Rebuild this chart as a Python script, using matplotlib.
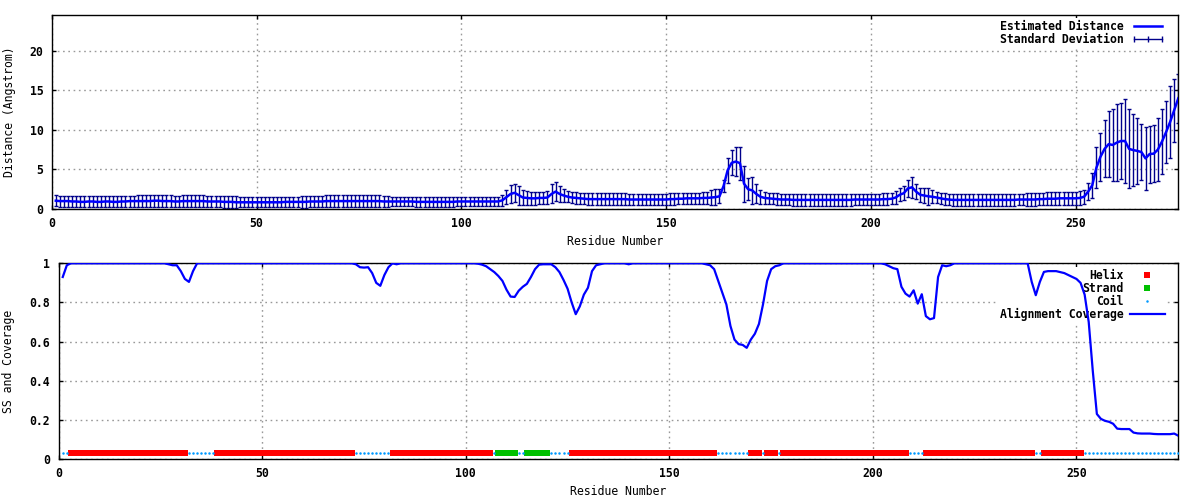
import numpy as np
import matplotlib
matplotlib.use("Agg")
import matplotlib.pyplot as plt
from matplotlib.lines import Line2D
from matplotlib.ticker import FuncFormatter

# per-residue estimated distance (Angstrom), residues 1..275
dist = [
    1.05, 1.0, 1.0, 1.0, 0.95, 0.95, 0.9, 0.9, 0.95, 0.95, 0.9, 0.9, 0.95, 0.95, 0.9, 0.9, 0.95, 0.95, 1.0, 1.0, 1.0, 1.0, 1.0, 1.0, 1.05,
    1.05, 1.0, 1.0, 1.0, 0.95, 0.95, 1.0, 1.0, 1.0, 1.0, 1.0, 1.0, 0.95, 0.95, 0.95, 0.95, 0.9, 0.9, 0.9, 0.85, 0.85, 0.85, 0.85, 0.85, 0.85,
    0.85, 0.85, 0.85, 0.85, 0.85, 0.85, 0.9, 0.9, 0.9, 0.9, 0.9, 0.9, 0.95, 0.95, 0.95, 0.95, 1.0, 1.0, 1.0, 1.0, 1.0, 1.0, 1.0, 1.0, 1.0,
    1.0, 1.0, 1.0, 1.0, 1.0, 0.95, 0.95, 0.95, 0.95, 0.95, 0.95, 0.95, 0.95, 0.9, 0.9, 0.9, 0.9, 0.9, 0.9, 0.9, 0.9, 0.9, 0.9, 0.95, 0.95,
    0.95, 0.95, 0.95, 0.95, 0.95, 0.95, 0.95, 0.95, 0.95, 1.1, 1.5, 1.9, 2.05, 1.75, 1.45, 1.4, 1.35, 1.35, 1.4, 1.4, 1.45, 1.9, 2.2, 1.9, 1.7,
    1.55, 1.45, 1.4, 1.35, 1.3, 1.25, 1.25, 1.25, 1.25, 1.25, 1.25, 1.25, 1.25, 1.25, 1.25, 1.2, 1.2, 1.2, 1.2, 1.2, 1.2, 1.2, 1.2, 1.2, 1.2,
    1.25, 1.25, 1.3, 1.3, 1.35, 1.35, 1.35, 1.35, 1.4, 1.4, 1.45, 1.5, 1.6, 2.9, 4.9, 5.85, 6.0, 5.8, 3.2, 2.5, 2.35, 1.9, 1.55, 1.4, 1.35,
    1.3, 1.25, 1.2, 1.2, 1.2, 1.15, 1.15, 1.15, 1.15, 1.15, 1.15, 1.15, 1.15, 1.15, 1.15, 1.15, 1.15, 1.15, 1.15, 1.15, 1.2, 1.2, 1.2, 1.2, 1.2,
    1.2, 1.2, 1.25, 1.25, 1.3, 1.45, 1.8, 2.0, 2.6, 2.75, 2.2, 1.8, 1.7, 1.6, 1.55, 1.45, 1.35, 1.25, 1.2, 1.15, 1.15, 1.15, 1.15, 1.15, 1.15,
    1.15, 1.15, 1.15, 1.15, 1.15, 1.15, 1.15, 1.15, 1.15, 1.15, 1.2, 1.2, 1.2, 1.2, 1.2, 1.25, 1.25, 1.3, 1.3, 1.3, 1.35, 1.35, 1.35, 1.35, 1.35,
    1.4, 1.55, 2.2, 3.0, 5.2, 6.6, 7.6, 8.2, 8.1, 8.4, 8.6, 8.6, 7.6, 7.45, 7.35, 7.2, 6.4, 6.95, 7.0, 7.5, 8.5, 9.7, 11.0, 12.5, 14.0,
]

# per-residue standard deviation
dist_sd = [
    0.7, 0.7, 0.7, 0.7, 0.7, 0.7, 0.7, 0.7, 0.7, 0.7, 0.7, 0.7, 0.7, 0.7, 0.7, 0.7, 0.7, 0.7, 0.7, 0.7, 0.75, 0.75, 0.75, 0.75, 0.75,
    0.75, 0.75, 0.75, 0.75, 0.75, 0.75, 0.75, 0.75, 0.75, 0.75, 0.75, 0.75, 0.75, 0.75, 0.75, 0.75, 0.75, 0.75, 0.75, 0.75, 0.62, 0.62, 0.62, 0.62, 0.62,
    0.62, 0.62, 0.62, 0.62, 0.62, 0.62, 0.62, 0.62, 0.62, 0.62, 0.72, 0.72, 0.72, 0.72, 0.72, 0.72, 0.72, 0.72, 0.72, 0.72, 0.72, 0.72, 0.72, 0.72, 0.72,
    0.72, 0.72, 0.72, 0.72, 0.72, 0.72, 0.72, 0.62, 0.62, 0.62, 0.62, 0.62, 0.62, 0.62, 0.62, 0.62, 0.62, 0.62, 0.62, 0.62, 0.62, 0.62, 0.62, 0.62, 0.62,
    0.62, 0.62, 0.62, 0.62, 0.62, 0.62, 0.62, 0.62, 0.62, 0.7, 0.9, 1.1, 1.15, 1.2, 0.9, 0.85, 0.8, 0.8, 0.8, 0.8, 0.8, 1.2, 1.25, 1.0, 0.8,
    0.72, 0.72, 0.72, 0.72, 0.72, 0.72, 0.72, 0.72, 0.72, 0.72, 0.72, 0.72, 0.72, 0.72, 0.72, 0.72, 0.72, 0.72, 0.72, 0.72, 0.72, 0.72, 0.72, 0.72, 0.72,
    0.72, 0.72, 0.72, 0.72, 0.72, 0.72, 0.72, 0.72, 0.72, 0.72, 0.9, 1.0, 0.9, 0.8, 1.6, 1.6, 1.8, 2.1, 2.3, 1.4, 1.7, 1.2, 0.9, 0.8, 0.72,
    0.72, 0.72, 0.72, 0.72, 0.72, 0.72, 0.72, 0.72, 0.72, 0.72, 0.72, 0.72, 0.72, 0.72, 0.72, 0.72, 0.72, 0.72, 0.72, 0.72, 0.72, 0.72, 0.72, 0.72, 0.72,
    0.72, 0.72, 0.72, 0.72, 0.72, 0.8, 0.85, 0.9, 1.1, 1.35, 0.9, 0.9, 0.9, 1.1, 0.8, 0.75, 0.72, 0.72, 0.72, 0.72, 0.72, 0.72, 0.72, 0.72, 0.72,
    0.72, 0.72, 0.72, 0.72, 0.72, 0.72, 0.72, 0.72, 0.72, 0.72, 0.72, 0.72, 0.8, 0.8, 0.8, 0.8, 0.8, 0.8, 0.8, 0.8, 0.8, 0.8, 0.8, 0.8, 0.8,
    0.85, 0.9, 1.1, 1.6, 2.6, 3.0, 3.6, 4.2, 4.6, 4.9, 4.8, 5.3, 5.0, 4.6, 4.2, 3.5, 4.0, 3.6, 3.6, 4.0, 4.1, 3.9, 4.5, 4.0, 3.1,
]

# per-residue alignment coverage
coverage = [
    0.93, 0.99, 1.0, 1.0, 1.0, 1.0, 1.0, 1.0, 1.0, 1.0, 1.0, 1.0, 1.0, 1.0, 1.0, 1.0, 1.0, 1.0, 1.0, 1.0, 1.0, 1.0, 1.0, 1.0, 1.0,
    1.0, 0.995, 0.99, 0.99, 0.96, 0.92, 0.905, 0.96, 1.0, 1.0, 1.0, 1.0, 1.0, 1.0, 1.0, 1.0, 1.0, 1.0, 1.0, 1.0, 1.0, 1.0, 1.0, 1.0, 1.0,
    1.0, 1.0, 1.0, 1.0, 1.0, 1.0, 1.0, 1.0, 1.0, 1.0, 1.0, 1.0, 1.0, 1.0, 1.0, 1.0, 1.0, 1.0, 1.0, 1.0, 1.0, 1.0, 0.995, 0.98, 0.978,
    0.98, 0.95, 0.90, 0.885, 0.94, 0.98, 1.0, 0.995, 1.0, 1.0, 1.0, 1.0, 1.0, 1.0, 1.0, 1.0, 1.0, 1.0, 1.0, 1.0, 1.0, 1.0, 1.0, 1.0, 1.0,
    1.0, 1.0, 0.998, 0.993, 0.985, 0.97, 0.955, 0.935, 0.91, 0.865, 0.83, 0.828, 0.86, 0.88, 0.895, 0.93, 0.97, 0.993, 0.995, 0.995, 0.995, 0.98, 0.955, 0.915, 0.87,
    0.80, 0.74, 0.78, 0.84, 0.875, 0.96, 0.99, 0.995, 1.0, 1.0, 1.0, 1.0, 1.0, 1.0, 0.995, 1.0, 1.0, 1.0, 1.0, 1.0, 1.0, 1.0, 1.0, 1.0, 1.0,
    1.0, 1.0, 1.0, 1.0, 1.0, 1.0, 1.0, 1.0, 0.995, 0.99, 0.97, 0.91, 0.85, 0.79, 0.68, 0.61, 0.587, 0.583, 0.568, 0.61, 0.64, 0.69, 0.79, 0.91, 0.97,
    0.985, 0.99, 1.0, 1.0, 1.0, 1.0, 1.0, 1.0, 1.0, 1.0, 1.0, 1.0, 1.0, 1.0, 1.0, 1.0, 1.0, 1.0, 1.0, 1.0, 1.0, 1.0, 1.0, 1.0, 1.0,
    1.0, 1.0, 0.995, 0.985, 0.975, 0.97, 0.88, 0.845, 0.83, 0.862, 0.794, 0.842, 0.73, 0.714, 0.72, 0.93, 0.99, 0.985, 0.99, 1.0, 1.0, 1.0, 1.0, 1.0, 1.0,
    1.0, 1.0, 1.0, 1.0, 1.0, 1.0, 1.0, 1.0, 1.0, 1.0, 1.0, 1.0, 1.0, 0.905, 0.837, 0.905, 0.956, 0.96, 0.96, 0.96, 0.955, 0.95, 0.94, 0.93, 0.92,
    0.90, 0.84, 0.70, 0.45, 0.23, 0.205, 0.195, 0.19, 0.18, 0.155, 0.153, 0.153, 0.153, 0.135, 0.131, 0.13, 0.13, 0.13, 0.128, 0.127, 0.127, 0.127, 0.127, 0.13, 0.119,
]

# secondary structure as runs: (type, length); H helix, E strand, C coil
ss_runs = [("C", 2), ("H", 29), ("C", 7), ("H", 34), ("C", 9), ("H", 25), ("C", 1),
           ("E", 5), ("C", 2), ("E", 6), ("C", 5), ("H", 36), ("C", 8), ("H", 3),
           ("C", 1), ("H", 3), ("C", 1), ("H", 31), ("C", 4), ("H", 27), ("C", 2),
           ("H", 10), ("C", 24)]
ss_level = 0.03

x_ticks = [0, 50, 100, 150, 200, 250]
dist_ticks = [0, 5, 10, 15, 20]
cov_ticks = [0, 0.2, 0.4, 0.6, 0.8, 1]

plt.rcParams['font.family'] = 'DejaVu Sans Mono'
plt.rcParams['font.weight'] = 'bold'
plt.rcParams['font.size'] = 8.3

fig = plt.figure(figsize=(12, 5), dpi=100)
ax1 = fig.add_axes([0.0431, 0.582, 0.9388, 0.389])
ax2 = fig.add_axes([0.0489, 0.082, 0.933, 0.3914])

gfmt = FuncFormatter(lambda v, p: '%g' % v)


def style(ax):
    ax.set_xlim(0, 275)
    ax.set_xticks(x_ticks)
    ax.tick_params(direction='in', length=3, width=1, top=True, right=True, pad=6)
    ax.grid(True, color='#999999', linestyle=(0, (1.2, 2.6)), linewidth=1)
    ax.set_axisbelow(True)
    ax.yaxis.set_major_formatter(gfmt)
    for s in ax.spines.values():
        s.set_linewidth(1)


# top panel: distance with error bars
res = np.arange(1, len(dist) + 1)
ax1.errorbar(res, dist, yerr=dist_sd, fmt='none', ecolor='#00008b',
             elinewidth=1, capsize=1.5, capthick=1, zorder=2)
ax1.plot(res, dist, color='#0000ff', lw=1.8, zorder=3)
style(ax1)
ax1.set_ylim(0, 24.6)
ax1.set_yticks(dist_ticks)
ax1.set_ylabel('Distance (Angstrom)')
ax1.yaxis.set_label_coords(-0.032, 0.5)
ax1.set_xlabel('Residue Number')
ax1.xaxis.set_label_coords(0.5, -0.133)

h_line = Line2D([], [], color='#0000ff', lw=1.8)
h_err = Line2D([], [], color='#00008b', lw=1, marker='|', markersize=5, markeredgewidth=1)
leg1 = ax1.legend([h_line, h_err], ['Estimated Distance', 'Standard Deviation'],
                  loc='upper right', bbox_to_anchor=(0.9903, 0.9825), borderaxespad=0,
                  borderpad=0.2, markerfirst=False, numpoints=3, handlelength=3.0,
                  handletextpad=0.6, labelspacing=0.0, fancybox=False,
                  edgecolor='none', facecolor='white', framealpha=1)
leg1.set_zorder(1.5)

# bottom panel: secondary structure and coverage
ss = "".join(t * n for t, n in ss_runs)
ss_res = np.arange(1, len(ss) + 1)
helix = ss_res[[c == "H" for c in ss]]
strand = ss_res[[c == "E" for c in ss]]
coil = ss_res[[c == "C" for c in ss]]

cov_res = np.arange(1, len(coverage) + 1)
p_h, = ax2.plot(helix, np.full(len(helix), ss_level), 's', color='#ff0000',
                markersize=4.3, markeredgewidth=0, zorder=3, label='Helix')
p_e, = ax2.plot(strand, np.full(len(strand), ss_level), 's', color='#00c000',
                markersize=5, markeredgewidth=0, zorder=3, label='Strand')
p_c, = ax2.plot(coil, np.full(len(coil), ss_level), 'o', color='#0099ff',
                markersize=1.8, markeredgewidth=0, zorder=3, label='Coil')
p_cov, = ax2.plot(cov_res, coverage, color='#0000ff', lw=1.6, zorder=3,
                  label='Alignment Coverage')
style(ax2)
ax2.set_ylim(0, 1)
ax2.set_yticks(cov_ticks)
ax2.set_ylabel('SS and Coverage')
ax2.yaxis.set_label_coords(-0.0386, 0.5)
ax2.set_xlabel('Residue Number')
ax2.xaxis.set_label_coords(0.5, -0.133)

leg2 = ax2.legend(handles=[p_h, p_e, p_c, p_cov], loc='upper right',
                  bbox_to_anchor=(0.990, 0.981), borderaxespad=0, borderpad=0.2,
                  markerfirst=False, numpoints=1, handlelength=3.0,
                  handletextpad=0.6, labelspacing=0.0, fancybox=False,
                  edgecolor='none', facecolor='white', framealpha=1)
leg2.set_zorder(1.5)

fig.savefig('out.png', dpi=100)
